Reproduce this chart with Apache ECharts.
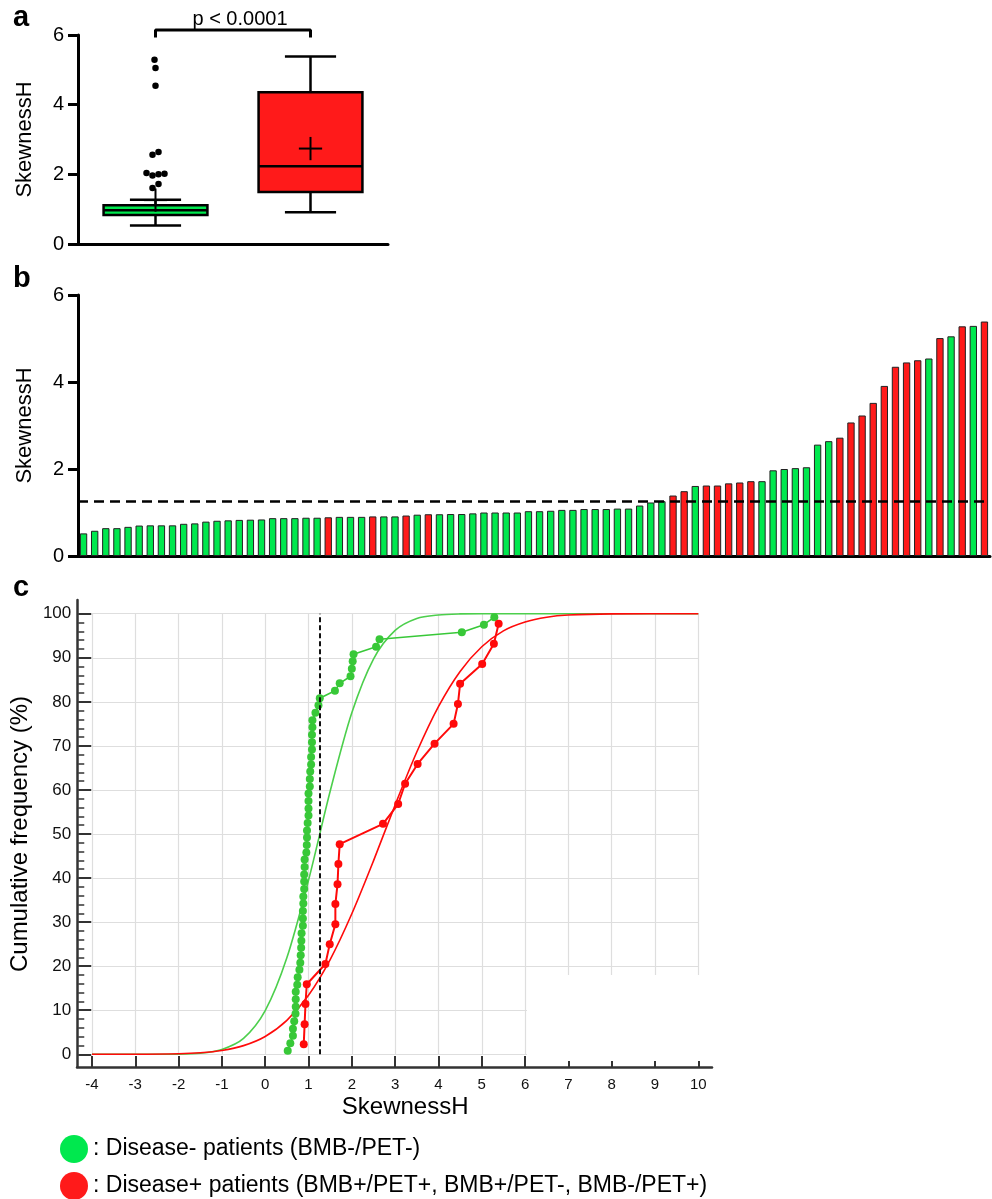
<!DOCTYPE html>
<html>
<head>
<meta charset="utf-8">
<script src="https://cdn.jsdelivr.net/npm/echarts@6/dist/echarts.min.js"></script>
<style>
html,body{margin:0;padding:0;background:#fff;}
#chart{width:992px;height:1199px;}
</style>
</head>
<body>
<div id="chart"></div>
<script>
// ---------- Panel a: box plots ----------
const boxCategories = ['Disease-', 'Disease+'];
const boxMin    = [0.53, 0.91];
const boxQ1     = [0.83, 1.49];
const boxMedian = [0.97, 2.23];
const boxQ3     = [1.11, 4.36];
const boxMax    = [1.27, 5.38];
const boxMean   = [1.26, 2.74];
const greenOutliers = [1.61, 1.72, 1.97, 2.00, 2.02, 2.04, 2.56, 2.64, 4.54, 5.05, 5.29];
const pValueText = 'p < 0.0001';

// ---------- Panel b: sorted SkewnessH per patient ----------
const skewValues = [
  0.52, 0.58, 0.64, 0.64, 0.67, 0.70, 0.705, 0.705, 0.705, 0.74,
  0.75, 0.79, 0.81, 0.82, 0.83, 0.835, 0.84, 0.87, 0.87, 0.87,
  0.88, 0.88, 0.89, 0.90, 0.90, 0.90, 0.91, 0.91, 0.91, 0.93,
  0.95, 0.96, 0.96, 0.965, 0.965, 0.98, 1.00, 1.00, 1.00, 1.00,
  1.03, 1.03, 1.04, 1.06, 1.06, 1.08, 1.08, 1.08, 1.09, 1.09,
  1.16, 1.23, 1.26, 1.39, 1.49, 1.61, 1.62, 1.62, 1.67, 1.69,
  1.72, 1.72, 1.97, 2.00, 2.02, 2.04, 2.56, 2.64, 2.72, 3.07,
  3.23, 3.52, 3.91, 4.35, 4.45, 4.50, 4.54, 5.01, 5.05, 5.28,
  5.29, 5.39
];
const skewGroups = [
  'G','G','G','G','G','G','G','G','G','G',
  'G','G','G','G','G','G','G','G','G','G',
  'G','G','R','G','G','G','R','G','G','R',
  'G','R','G','G','G','G','G','G','G','G',
  'G','G','G','G','G','G','G','G','G','G',
  'G','G','G','R','R','G','R','R','R','R',
  'R','G','G','G','G','G','G','G','R','R',
  'R','R','R','R','R','R','G','R','G','R',
  'G','R'
];
const threshold = 1.26;

// ---------- Panel c: cumulative frequency ----------
const greenCumFreq = [
  0.8, 2.5, 4.2, 5.8, 7.5, 9.2, 10.8, 12.5, 14.2, 15.8,
  17.5, 19.2, 20.8, 22.5, 24.2, 25.8, 27.5, 29.2, 30.8, 32.5,
  34.2, 35.8, 37.5, 39.2, 40.8, 42.5, 44.2, 45.8, 47.5, 49.2,
  50.8, 52.5, 54.2, 55.8, 57.5, 59.2, 60.8, 62.5, 64.2, 65.8,
  67.5, 69.2, 70.8, 72.5, 74.2, 75.8, 77.5, 79.2, 80.8, 82.5,
  84.2, 85.8, 87.5, 89.2, 90.8, 92.5, 94.2, 95.8, 97.5, 99.2
];
const redCumFreq = [
  2.3, 6.8, 11.4, 15.9, 20.5, 25.0, 29.5, 34.1, 38.6, 43.2, 47.7,
  52.3, 56.8, 61.4, 65.9, 70.5, 75.0, 79.5, 84.1, 88.6, 93.2, 97.7
];
const fitX      = [-4, -3, -2, -1.5, -1, -0.5, 0, 0.5, 1, 1.5, 2, 2.5, 3, 3.5, 4, 4.5, 5, 5.5, 6, 6.5, 7, 8, 10];
const greenFitY = [0, 0, 0.04, 0.24, 1.1, 3.6, 9.9, 21.9, 39.5, 59.7, 77.5, 89.7, 96.2, 98.9, 99.7, 99.95, 100, 100, 100, 100, 100, 100, 100];
const redFitY   = [0, 0.01, 0.13, 0.35, 0.87, 1.97, 4.05, 7.7, 13.4, 21.5, 31.9, 43.9, 56.6, 68.6, 78.9, 86.9, 92.5, 96.1, 98.1, 99.2, 99.7, 99.96, 100];

const legendNames = [': Disease- patients (BMB-/PET-)', ': Disease+ patients (BMB+/PET+, BMB+/PET-, BMB-/PET+)'];

// ---------- styles ----------
const FONT = '"Liberation Sans", Arial, Helvetica, sans-serif';
const GREEN = '#00e84e';
const RED = '#ff1a1a';
const GREEN_C = '#38c838';
const RED_C = '#ff0a0a';
const groupColor = { G: GREEN, R: RED };
const boxColors = [GREEN, RED];
const outlierJitter = [-3, 3, -3, 3, 9, -9, -3, 3, 0, 0, -1];

const chart = echarts.init(document.getElementById('chart'), null, { renderer: 'canvas' });

function boxRender(params, api) {
  const i = api.value(0);
  const p = v => api.coord([i, v]);
  const lo = p(api.value(1)), q1 = p(api.value(2)), md = p(api.value(3)),
        q3 = p(api.value(4)), hi = p(api.value(5)), mn = p(api.value(6));
  const band = api.size([1, 0])[0];
  const cx = lo[0], bw = band * 0.67, cw = band * 0.33, pw = band * 0.15;
  const ln = (x1, y1, x2, y2, w) => ({ type: 'line', shape: { x1, y1, x2, y2 }, style: { stroke: '#000', lineWidth: w || 2.5 } });
  return {
    type: 'group',
    children: [
      ln(cx, lo[1], cx, q1[1]),
      ln(cx, q3[1], cx, hi[1]),
      ln(cx - cw / 2, lo[1], cx + cw / 2, lo[1]),
      ln(cx - cw / 2, hi[1], cx + cw / 2, hi[1]),
      { type: 'rect', shape: { x: cx - bw / 2, y: q3[1], width: bw, height: q1[1] - q3[1] },
        style: { fill: boxColors[params.dataIndex], stroke: '#000', lineWidth: 2.5 } },
      ln(cx - bw / 2, md[1], cx + bw / 2, md[1]),
      ln(cx - pw / 2, mn[1], cx + pw / 2, mn[1], 2),
      ln(cx, mn[1] - pw / 2, cx, mn[1] + pw / 2, 2)
    ]
  };
}

const blackAxisLine = { show: true, onZero: false, lineStyle: { color: '#000', width: 3 } };
const skewYAxis = (gi) => ({
  type: 'value', gridIndex: gi, min: 0, max: 6, interval: 2,
  axisLine: blackAxisLine,
  axisTick: { show: true, inside: false, length: 10, lineStyle: { color: '#000', width: 3 } },
  axisLabel: { fontSize: 20, color: '#000', margin: 14, fontFamily: FONT },
  splitLine: { show: false },
  name: 'SkewnessH', nameLocation: 'middle', nameGap: 42,
  nameTextStyle: { fontSize: 22, color: '#000', fontFamily: FONT }
});

const greenVals = skewValues.filter((v, i) => skewGroups[i] === 'G');
const redVals = skewValues.filter((v, i) => skewGroups[i] === 'R');

function label(text, x, baseline, size, bold, align) {
  return { type: 'text', z: 100,
    style: { text, x, y: baseline - 0.3465 * size, align: align || 'left', verticalAlign: 'middle',
             font: (bold ? 'bold ' : '') + size + 'px ' + FONT, fill: '#000' } };
}

const option = {
  animation: false,
  backgroundColor: '#fff',
  textStyle: { fontFamily: FONT },
  grid: [
    { left: 78, top: 35, width: 310, height: 209 },
    { left: 78, top: 295, width: 912, height: 261 },
    { left: 77, top: 600, width: 635, height: 467 },
    { left: 90.7, top: 613.7, width: 607.6, height: 440.6 }
  ],
  legend: {
    orient: 'vertical', left: 60, top: 1135, height: 80, padding: 0, itemGap: 9,
    itemWidth: 28, itemHeight: 28, icon: 'circle',
    selectedMode: false,
    itemStyle: { opacity: 1, borderWidth: 0 },
    textStyle: { fontSize: 23, color: '#000', fontFamily: FONT },
    data: [
      { name: legendNames[0], itemStyle: { color: GREEN, opacity: 1 } },
      { name: legendNames[1], itemStyle: { color: RED, opacity: 1 } }
    ]
  },
  xAxis: [
    { type: 'category', gridIndex: 0, data: boxCategories, axisLine: blackAxisLine,
      axisTick: { show: false }, axisLabel: { show: false } },
    { type: 'category', gridIndex: 1, data: skewValues.map((v, i) => String(i + 1)), axisLine: blackAxisLine,
      axisTick: { show: false }, axisLabel: { show: false } },
    { type: 'value', gridIndex: 2, min: 0, max: 1,
      axisLine: { show: true, onZero: false, lineStyle: { color: '#333', width: 2.5 } },
      axisTick: { show: false }, axisLabel: { show: false }, splitLine: { show: false } },
    { type: 'value', gridIndex: 3, min: -4, max: 10, interval: 1, offset: 12.7,
      axisLine: { show: false, onZero: false },
      axisTick: { show: true, inside: true, length: 11, lineStyle: { color: '#333', width: 2 } },
      axisLabel: { fontSize: 15, color: '#111', margin: 10, fontFamily: FONT },
      splitLine: { show: true, lineStyle: { color: '#dedede', width: 1.2 } },
      name: 'SkewnessH', nameLocation: 'middle', nameGap: 28,
      nameTextStyle: { fontSize: 24, color: '#000', fontFamily: FONT, padding: [0, 0, 0, 20] } }
  ],
  yAxis: [
    skewYAxis(0),
    skewYAxis(1),
    { type: 'value', gridIndex: 2, min: 0, max: 1,
      axisLine: { show: true, onZero: false, lineStyle: { color: '#333', width: 2.5 } },
      axisTick: { show: false }, axisLabel: { show: false }, splitLine: { show: false } },
    { type: 'value', gridIndex: 3, min: 0, max: 100, interval: 10, offset: 13.7,
      axisLine: { show: false, onZero: false },
      axisTick: { show: true, inside: true, length: 13, lineStyle: { color: '#333', width: 2 } },
      minorTick: { show: true, splitNumber: 5, length: 6, lineStyle: { color: '#333', width: 1.5 } },
      axisLabel: { fontSize: 17, color: '#111', margin: 7, fontFamily: FONT },
      splitLine: { show: true, lineStyle: { color: '#dedede', width: 1.2 } },
      name: 'Cumulative frequency (%)', nameLocation: 'middle', nameGap: 38,
      nameTextStyle: { fontSize: 24, color: '#000', fontFamily: FONT } }
  ],
  graphic: [
    { type: 'rect', z: 100, shape: { x: 527, y: 975, width: 188, height: 86 }, style: { fill: '#fff' } },
    label('a', 13, 28, 29, true),
    label('b', 13, 289, 29, true),
    label('c', 13, 598, 29, true),
    label(pValueText, 240, 26, 20, false, 'center')
  ],
  series: [
    { type: 'custom', name: 'box', xAxisIndex: 0, yAxisIndex: 0,
      renderItem: boxRender,
      encode: { x: 0, y: [1, 2, 3, 4, 5, 6] },
      data: boxCategories.map((c, i) => [i, boxMin[i], boxQ1[i], boxMedian[i], boxQ3[i], boxMax[i], boxMean[i]]) },
    { type: 'scatter', name: 'outliers', xAxisIndex: 0, yAxisIndex: 0,
      symbol: 'circle', symbolSize: 6.5, itemStyle: { color: '#000', opacity: 1 },
      data: greenOutliers.map((v, i) => ({ value: [0, v], symbolOffset: [outlierJitter[i], 0] })) },
    { type: 'line', name: 'bracket', xAxisIndex: 0, yAxisIndex: 0, clip: false,
      symbol: 'none', lineStyle: { color: '#000', width: 3 },
      data: [[0, 5.93], [0, 6.14], [1, 6.14], [1, 5.93]] },
    { type: 'bar', name: 'SkewnessH', xAxisIndex: 1, yAxisIndex: 1, barWidth: '66%',
      data: skewValues.map((v, i) => ({ value: v, itemStyle: { color: groupColor[skewGroups[i]], borderColor: '#222', borderWidth: 1 } })),
      markLine: { silent: true, symbol: 'none', label: { show: false },
        lineStyle: { color: '#000', width: 2.5, type: [10, 6] },
        data: [{ yAxis: threshold }] } },
    { type: 'line', name: 'green fit', xAxisIndex: 3, yAxisIndex: 3, symbol: 'none',
      smooth: 0.3, lineStyle: { color: '#4ccf4c', width: 1.6 },
      data: fitX.map((x, i) => [x, greenFitY[i]]) },
    { type: 'line', name: 'red fit', xAxisIndex: 3, yAxisIndex: 3, symbol: 'none',
      smooth: 0.3, lineStyle: { color: RED_C, width: 1.6 },
      data: fitX.map((x, i) => [x, redFitY[i]]) },
    { type: 'line', name: 'green ecdf', xAxisIndex: 3, yAxisIndex: 3,
      symbol: 'circle', symbolSize: 8, itemStyle: { color: GREEN_C }, lineStyle: { color: GREEN_C, width: 1.6 },
      data: greenVals.map((v, i) => [v, greenCumFreq[i]]),
      markLine: { silent: true, symbol: 'none', label: { show: false },
        lineStyle: { color: '#111', width: 2, type: [5, 3] },
        data: [[{ coord: [threshold, 0] }, { coord: [threshold, 100] }]] } },
    { type: 'line', name: 'red ecdf', xAxisIndex: 3, yAxisIndex: 3,
      symbol: 'circle', symbolSize: 8, itemStyle: { color: RED_C }, lineStyle: { color: RED_C, width: 2 },
      data: redVals.map((v, i) => [v, redCumFreq[i]]) },
    { type: 'scatter', name: legendNames[0], xAxisIndex: 3, yAxisIndex: 3, itemStyle: { color: GREEN, opacity: 1 }, data: [] },
    { type: 'scatter', name: legendNames[1], xAxisIndex: 3, yAxisIndex: 3, itemStyle: { color: RED, opacity: 1 }, data: [] }
  ]
};
chart.setOption(option);
</script>
</body>
</html>
